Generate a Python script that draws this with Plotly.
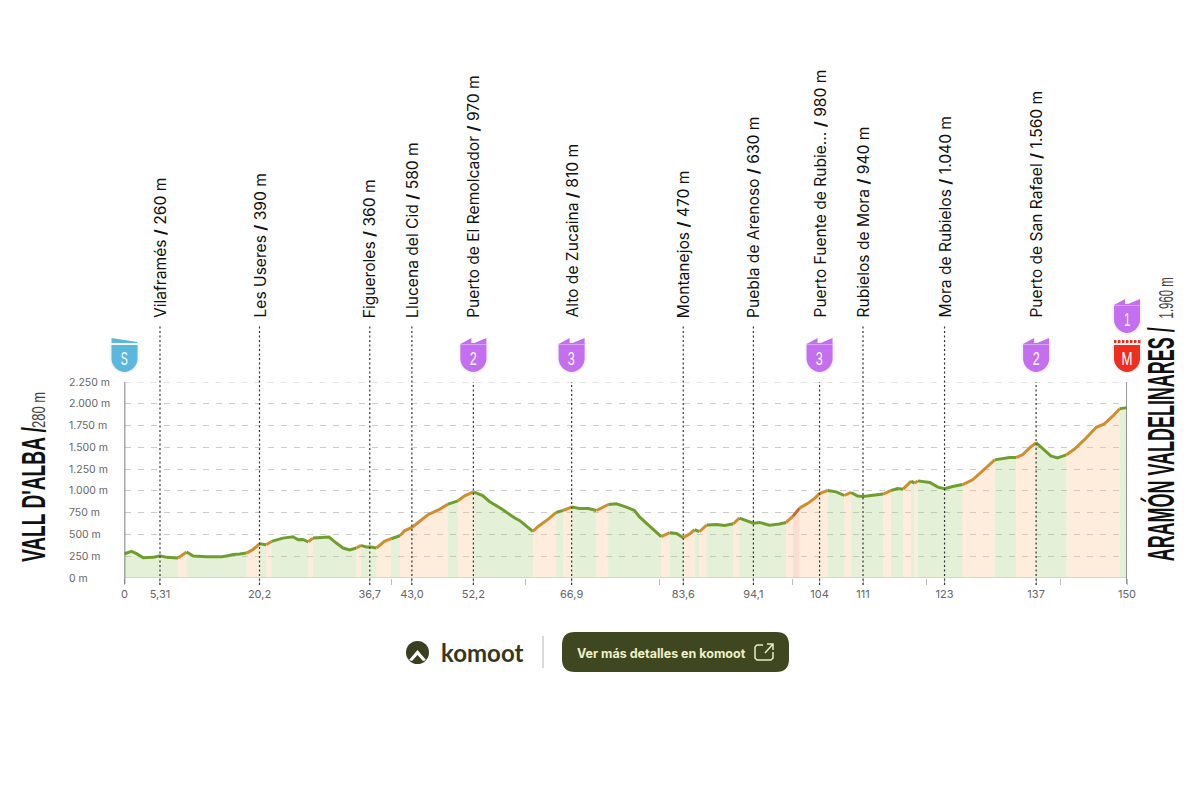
import json

import plotly.graph_objects as go

# profile
km = [0, 1.05, 1.8, 2.8, 4.3, 5.3, 6.3, 8.0, 9.3, 10.3, 12.3, 14.5, 15.5, 16.25, 17.25, 18.25, 19.2, 20.2,
      21.2, 22.0, 23.7, 25.2, 26.0, 26.7, 27.5, 28.2, 29.7, 30.6, 31.7, 32.7, 33.7, 34.7, 35.4, 36.2, 36.9,
      37.7, 38.9, 39.9, 41.2, 41.9, 43.0, 44.2, 45.4, 47.2, 48.4, 49.9, 50.9, 52.2, 53.6, 54.6, 56.4, 58.4,
      59.1, 61.1, 61.9, 63.4, 64.6, 65.6, 66.9, 68.1, 69.4, 70.6, 72.4, 73.6, 75.1, 76.3, 77.1, 78.6, 80.3,
      81.6, 82.6, 83.6, 84.6, 85.3, 86.0, 87.1, 88.6, 89.8, 91.1, 92.0, 93.0, 94.1, 95.0, 96.5, 98.0, 99.0,
      100.0, 101.0, 102.3, 103.3, 104.0, 105.2, 106.5, 107.7, 108.7, 109.7, 110.5, 112.0, 113.5, 114.7, 115.7,
      116.5, 117.7, 118.2, 118.7, 120.5, 121.7, 122.7, 123.9, 125.4, 126.9, 128.4, 130.2, 131.4, 132.4, 133.4,
      134.4, 135.4, 136.4, 137.4, 138.6, 139.6, 140.9, 142.1, 143.6, 144.6, 145.4, 146.6, 147.9, 148.9, 150.0]
elev = [279, 305, 279, 233, 237, 256, 237, 229, 298, 252, 244, 244, 256, 271, 275, 286, 325, 393,
        382, 420, 458, 474, 439, 443, 416, 458, 462, 470, 401, 344, 321, 344, 374, 355, 355,
        344, 420, 451, 485, 542, 581, 649, 726, 791, 848, 886, 944, 989, 947, 879, 795, 688,
        661, 535, 592, 676, 753, 775, 814, 798, 798, 775, 844, 852, 814, 775, 699, 592, 474,
        520, 512, 462, 508, 554, 531, 607, 615, 604, 623, 688, 661, 630, 638, 607, 619, 638,
        707, 802, 860, 917, 970, 1005, 989, 947, 982, 940, 936, 947, 963, 1005, 1028,
        1020, 1112, 1089, 1115, 1096, 1043, 1024, 1050, 1073, 1127, 1230, 1356, 1368, 1383, 1383,
        1417, 1490, 1555, 1490, 1402, 1379, 1413, 1478, 1585, 1662, 1730, 1769, 1860, 1944, 1956]

stop_names = ["Vilaframés", "Les Useres", "Figueroles", "Llucena del Cid", "Puerto de El Remolcador",
              "Alto de Zucaina", "Montanejos", "Puebla de Arenoso", "Puerto Fuente de Rubie...",
              "Rubielos de Mora", "Mora de Rubielos", "Puerto de San Rafael"]
stop_km = [5.31, 20.2, 36.7, 43.0, 52.2, 66.9, 83.6, 94.1, 104, 110.5, 122.7, 136.4]
stop_tick = ["5,31", "20,2", "36,7", "43,0", "52,2", "66,9", "83,6", "94,1", "104", "111", "123", "137"]
stop_elev = ["260 m", "390 m", "360 m", "580 m", "970 m", "810 m", "470 m", "630 m", "980 m", "940 m", "1.040 m", "1.560 m"]
stop_cat = ["", "", "", "", "2", "3", "", "", "3", "", "", "2"]

y_ticks = [0, 250, 500, 750, 1000, 1250, 1500, 1750, 2000, 2250]
y_labels = ["0 m", "250 m", "500 m", "750 m", "1.000 m", "1.250 m", "1.500 m", "1.750 m", "2.000 m", "2.250 m"]
minor_km = [40, 60, 80, 100, 120, 140]

W, H = 1200, 800
LEFT, RIGHT, BOTTOM, TOP = 124.5, 1127, 578, 382

FILLS = ["rgba(150,195,100,0.25)", "rgba(250,190,125,0.27)", "rgba(245,160,120,0.35)"]
LINES = ["#6f9e2f", "#cf8f30", "#c8692c"]

# no condensed font installed, so these texts get squeezed in the page
SQUEEZED = {"VALL D'ALBA /": 135, "280 m": 36, "ARAMÓN VALDELINARES /": 234, "1.960 m": 41,
            "S": 7, "M": 11, "1": 6, "2": 7, "3": 7}


def grade_class(i):
    grade = (elev[i + 1] - elev[i]) / (km[i + 1] - km[i]) / 10
    if grade > 9:
        return 2
    if grade > 2.8:
        return 1
    return 0


def px(x):
    return round(x / W, 5)


def py(y):
    return round(1 - y / H, 5)


def km_paper(k):
    return px(LEFT + k / 150 * (RIGHT - LEFT))


fig = go.Figure()

# group the points in runs of the same slope class
runs = []
start = 0
for i in range(1, len(km) - 1):
    if grade_class(i) != grade_class(start):
        runs.append((start, i, grade_class(start)))
        start = i
runs.append((start, len(km) - 1, grade_class(start)))

for a, b, c in runs:
    fig.add_trace(go.Scatter(x=km[a:b + 1], y=elev[a:b + 1], mode="none", fill="tozeroy",
                             fillcolor=FILLS[c], hoverinfo="skip", showlegend=False))
for a, b, c in runs:
    fig.add_trace(go.Scatter(x=km[a:b + 1], y=elev[a:b + 1], mode="lines",
                             line=dict(color=LINES[c], width=3), showlegend=False))

fig.update_xaxes(
    domain=[px(LEFT), px(RIGHT)],
    range=[0, 150],
    automargin=False,
    tickvals=[0] + stop_km + minor_km + [150],
    ticktext=["0"] + stop_tick + [""] * len(minor_km) + ["150"],
    ticks="outside",
    ticklen=6,
    tickwidth=1,
    tickcolor="#bdbdbd",
    showgrid=False,
    zeroline=False,
    showline=False,
    tickfont=dict(family="Inter", size=11, color="#666666"),
    tickangle=0,
)
fig.update_yaxes(
    domain=[py(BOTTOM), py(TOP)],
    range=[0, 2250],
    automargin=False,
    tickvals=y_ticks,
    showticklabels=False,
    ticks="",
    showgrid=True,
    griddash="6px,7px",
    gridcolor="#cccccc",
    gridwidth=1,
    zeroline=False,
    showline=False,
)

for v, label in zip(y_ticks, y_labels):
    fig.add_annotation(x=px(67), xref="paper", y=v, yref="y", xanchor="left", yanchor="middle", text=label,
                       showarrow=False, font=dict(family="Inter", size=10.5, color="#666666"))

shapes = []

# plotly drops the grid line on the top edge of the range
shapes.append(dict(type="line", xref="x", yref="y", x0=0, x1=150, y0=y_ticks[-1], y1=y_ticks[-1], layer="below",
                   line=dict(color="#cccccc", width=1, dash="6px,7px")))

# baseline and the two end axes
shapes.append(dict(type="line", xref="x", yref="y", x0=0, x1=150, y0=0, y1=0, line=dict(color="#cfcfb4", width=1.5)))
shapes.append(dict(type="line", xref="x", yref="paper", x0=0, x1=0, y0=py(584), y1=py(TOP),
                   line=dict(color="#555555", width=1.5)))
shapes.append(dict(type="line", xref="x", yref="paper", x0=150, x1=150, y0=py(584), y1=py(TOP),
                   line=dict(color="#777777", width=1.5)))

# dotted lines from the stops
for k, cat in zip(stop_km, stop_cat):
    top = TOP if cat else 325
    shapes.append(dict(type="line", xref="x", yref="paper", x0=k, x1=k, y0=py(585), y1=py(top),
                       line=dict(color="#333333", width=1.2, dash="2px,2.5px")))

SHIELD = "M-13,10 L13,10 L13,-4 C13,-11 6,-17 0,-17 C-6,-17 -13,-11 -13,-4 Z"
NOTCHED = "M-13,11 L-2,17 L-2,12 L1,12 L13,17 L13,-4 C13,-11 6,-17 0,-17 C-6,-17 -13,-11 -13,-4 Z"


def badge(k, y_mid, color, text, top="peaks"):
    body = NOTCHED if top == "peaks" else SHIELD
    anchor = dict(xref="paper", xsizemode="pixel", xanchor=km_paper(k), yref="paper", ysizemode="pixel", yanchor=py(y_mid))
    # soft halo
    shapes.append(dict(type="path", path=SHIELD, fillcolor="rgba(0,0,0,0.05)", line=dict(color="rgba(0,0,0,0.04)", width=4), **anchor))
    shapes.append(dict(type="path", path=body, fillcolor=color, line=dict(width=0), **anchor))
    if top == "peaks":
        shapes.append(dict(type="rect", x0=-13, x1=13, y0=10, y1=10.8, fillcolor="rgba(255,255,255,0.45)", line=dict(width=0), **anchor))
    if top == "flag":
        shapes.append(dict(type="path", path="M-13,17 L13,13 L13,12 L-13,12 Z", fillcolor=color, line=dict(width=0), **anchor))
    if top == "check":
        for j in range(-13, 13, 4):
            shapes.append(dict(type="rect", x0=j, x1=j + 2.5, y0=12, y1=15, fillcolor=color, line=dict(width=0), **anchor))
    fig.add_annotation(x=k, xref="x", y=py(y_mid + 3), yref="paper", yanchor="middle", text=text, showarrow=False,
                       font=dict(family="Liberation Sans", size=19, color="white"))


badge(0, 355, "#5bb8dc", "S", top="flag")
for k, cat in zip(stop_km, stop_cat):
    if cat:
        badge(k, 355, "#c46ff0", cat)
badge(150, 316, "#c46ff0", "1")
badge(150, 355, "#ee2e1e", "M", top="check")

# stop labels
for name, k, e in zip(stop_names, stop_km, stop_elev):
    fig.add_annotation(x=k, xref="x", y=py(320), yref="paper", yanchor="bottom", xanchor="center",
                       text=f"{name} <b>/</b> {e}", textangle=-90, showarrow=False,
                       font=dict(family="Inter", size=15.6, color="#111111"))

# start and finish names
fig.add_annotation(x=px(33), xref="paper", xanchor="center", y=py(494.5), yref="paper", yanchor="middle",
                   text="<b>VALL D'ALBA /</b>", textangle=-90, showarrow=False,
                   font=dict(family="Liberation Sans", size=34, color="#111111"))
fig.add_annotation(x=px(39), xref="paper", xanchor="center", y=py(410), yref="paper", yanchor="middle", text="280 m",
                   textangle=-90, showarrow=False, font=dict(family="Liberation Sans", size=18, color="#444444"))
fig.add_annotation(x=px(1161), xref="paper", xanchor="center", y=py(445), yref="paper", yanchor="middle",
                   text="<b>ARAMÓN VALDELINARES /</b>", textangle=-90, showarrow=False,
                   font=dict(family="Liberation Sans", size=36, color="#111111"))
fig.add_annotation(x=px(1166), xref="paper", xanchor="center", y=py(298), yref="paper", yanchor="middle", text="1.960 m",
                   textangle=-90, showarrow=False, font=dict(family="Liberation Sans", size=20, color="#444444"))

# komoot footer
shapes.append(dict(type="circle", xref="paper", yref="paper", x0=px(406), x1=px(429), y0=py(664), y1=py(641),
                   fillcolor="#3a3f22", line=dict(width=0)))
shapes.append(dict(type="path", xref="paper", yref="paper", line=dict(width=0), fillcolor="white",
                   path=f"M {px(409)} {py(660)} L {px(417.5)} {py(650)} L {px(426)} {py(660)} "
                        f"L {px(423)} {py(661)} L {px(417.5)} {py(655)} L {px(412)} {py(661)} Z"))
shapes.append(dict(type="line", xref="paper", yref="paper", x0=px(543), x1=px(543), y0=py(636), y1=py(668),
                   line=dict(color="#b5b5b5", width=1)))
r = 13
shapes.append(dict(type="path", xref="paper", yref="paper", line=dict(width=0), fillcolor="#3e4720",
                   path=f"M {px(562 + r)} {py(632)} L {px(789 - r)} {py(632)} Q {px(789)} {py(632)} {px(789)} {py(632 + r)} "
                        f"L {px(789)} {py(672 - r)} Q {px(789)} {py(672)} {px(789 - r)} {py(672)} "
                        f"L {px(562 + r)} {py(672)} Q {px(562)} {py(672)} {px(562)} {py(672 - r)} "
                        f"L {px(562)} {py(632 + r)} Q {px(562)} {py(632)} {px(562 + r)} {py(632)} Z"))
shapes.append(dict(type="path", xref="paper", yref="paper", line=dict(color="#e8ecc4", width=1.5),
                   path=f"M {px(763)} {py(645)} L {px(757)} {py(645)} L {px(755)} {py(647)} L {px(755)} {py(658)} "
                        f"L {px(757)} {py(660)} L {px(771)} {py(660)} L {px(773)} {py(658)} L {px(773)} {py(652)} "
                        f"M {px(765)} {py(653)} L {px(773)} {py(644)} M {px(767)} {py(644)} L {px(773)} {py(644)} L {px(773)} {py(650)}"))
fig.add_annotation(x=px(439), xref="paper", y=py(652), yref="paper", xanchor="left", yanchor="middle", text="<b>komoot</b>",
                   showarrow=False, font=dict(family="Lato", size=24, color="#33381f"))
fig.add_annotation(x=px(575), xref="paper", y=py(653), yref="paper", xanchor="left", yanchor="middle",
                   text="<b>Ver más detalles en komoot</b>", showarrow=False, font=dict(family="Inter", size=12.5, color="#eef0c8"))

fig.update_layout(
    width=W,
    height=H,
    margin=dict(l=0, r=0, t=0, b=0),
    paper_bgcolor="white",
    plot_bgcolor="white",
    showlegend=False,
    shapes=shapes,
)

squeeze_js = """
document.body.style.margin = '0';
var lengths = %s;
document.querySelectorAll('.annotation-text').forEach(function (t) {
  var n = lengths[t.textContent];
  if (n) { t.setAttribute('textLength', n); t.setAttribute('lengthAdjust', 'spacingAndGlyphs'); }
});
""" % json.dumps(SQUEEZED, ensure_ascii=False)

fig.write_html("out.html", post_script=squeeze_js, config={"displayModeBar": False})
